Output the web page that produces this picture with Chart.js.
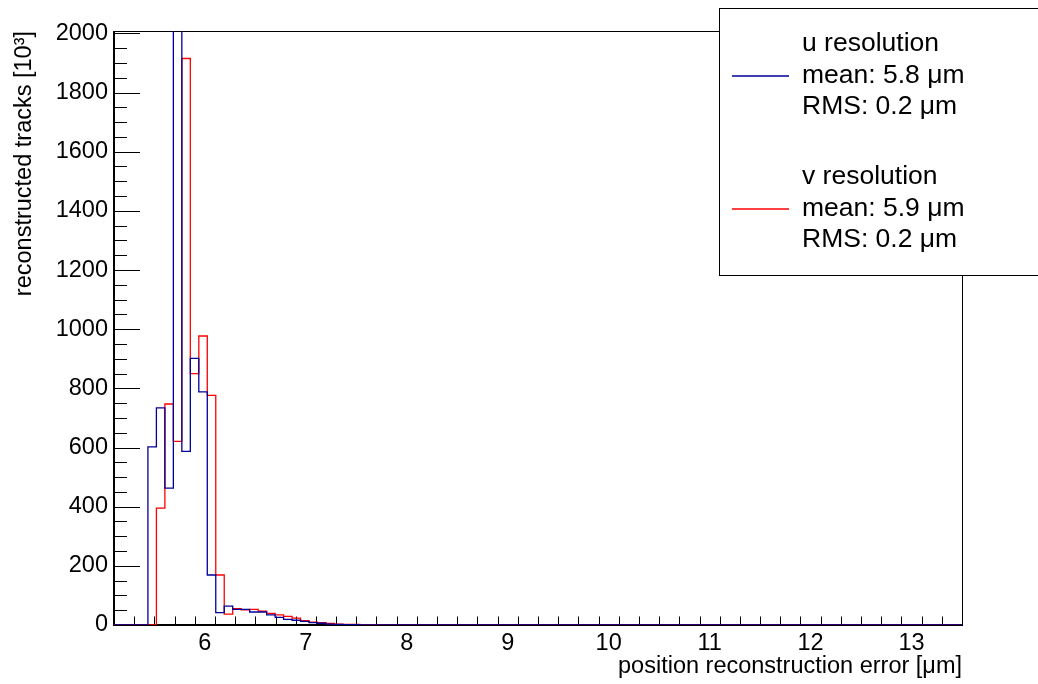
<!DOCTYPE html>
<html>
<head>
<meta charset="utf-8">
<script src="https://cdn.jsdelivr.net/npm/chart.js@4.4.1/dist/chart.umd.min.js"></script>
<style>
  html, body { margin: 0; padding: 0; background: #fff; }
</style>
</head>
<body>
<canvas id="myChart" width="1038" height="684"></canvas>
<script>
// histogram binning: 100 bins from 5.1 to 13.5 um
const binLow = 5.1;
const binWidth = 0.084;
const nBins = 100;

// counts per bin [10^3], starting at bin 0; bins not listed are empty
const uCounts = [0, 0, 0, 0, 602, 734, 463, 2600, 587, 901, 788, 169, 42, 64, 53, 53, 44, 44, 34, 26, 19, 16, 12, 8, 6, 3, 2, 1, 1];
const vCounts = [0, 0, 0, 0, 0, 395, 747, 621, 1915, 850, 977, 776, 169, 37, 55, 51, 53, 47, 39, 34, 29, 23, 15, 10, 8, 5, 3, 2, 2, 1, 1];

const xTicks = [6, 7, 8, 9, 10, 11, 12, 13];
const yTicks = [0, 200, 400, 600, 800, 1000, 1200, 1400, 1600, 1800, 2000];
const yMax = 2008;

const legendU = ['u resolution', 'mean: 5.8 μm', 'RMS: 0.2 μm'];
const legendV = ['v resolution', 'mean: 5.9 μm', 'RMS: 0.2 μm'];

const uColor = '#000099';
const vColor = '#ff0000';
const fontFamily = '"Liberation Sans", Arial, Helvetica, sans-serif';
const axisFont = { family: fontFamily, size: 23.5 };

// outline of a histogram: both edges of every bin
const histPoints = (counts) => {
    const pts = [];
    for (let k = 0; k < nBins; k++) {
        const v = counts[k] || 0;
        pts.push({ x: binLow + k * binWidth, y: v });
        pts.push({ x: binLow + (k + 1) * binWidth, y: v });
    }
    return pts;
};

// frame and inward tick marks, ROOT style
const framePlugin = {
    id: 'frame',
    beforeDatasetsDraw(chart) {
        const { ctx, chartArea: a, scales } = chart;
        ctx.save();
        ctx.strokeStyle = '#000';
        ctx.lineWidth = 1;
        ctx.strokeRect(a.left + 0.5, a.top + 0.5, a.right - a.left, a.bottom - a.top);
        ctx.lineWidth = 2;
        ctx.beginPath();
        ctx.moveTo(a.left, a.top);
        ctx.lineTo(a.left, a.bottom);
        ctx.lineTo(a.right + 1, a.bottom);
        ctx.stroke();

        ctx.lineWidth = 1;
        ctx.beginPath();
        // x ticks: major every 1, minor every 0.2
        for (let i = 51; i <= 135; i += 2) {
            const v = i / 10;
            if (v < scales.x.min || v > scales.x.max) continue;
            const px = Math.round(scales.x.getPixelForValue(v)) + 0.5;
            const len = (i % 10 === 0) ? 17 : 8.5;
            ctx.moveTo(px, a.bottom);
            ctx.lineTo(px, a.bottom - len);
        }
        // y ticks: major every 200, minor every 50
        for (let v = 0; v <= yMax; v += 50) {
            const py = Math.round(scales.y.getPixelForValue(v)) + 0.5;
            const len = (v % 200 === 0) ? 26 : 13;
            ctx.moveTo(a.left, py);
            ctx.lineTo(a.left + len, py);
        }
        ctx.stroke();
        ctx.restore();
    }
};

// boxed legend with stats lines, drawn over the frame
const statsLegend = {
    id: 'statsLegend',
    afterDraw(chart) {
        const ctx = chart.ctx;
        const box = { x: 719.5, y: 8.5, w: 330, h: 267 };
        ctx.save();
        ctx.fillStyle = '#fff';
        ctx.fillRect(box.x, box.y, box.w, box.h);
        ctx.strokeStyle = '#000';
        ctx.lineWidth = 1;
        ctx.strokeRect(box.x, box.y, box.w, box.h);

        ctx.font = '26.5px ' + fontFamily;
        ctx.fillStyle = '#000';
        ctx.textBaseline = 'middle';
        ctx.textAlign = 'left';
        const groups = [
            { lines: legendU, color: uColor, ys: [44, 76, 107] },
            { lines: legendV, color: vColor, ys: [177, 209, 240] }
        ];
        groups.forEach(g => {
            g.lines.forEach((t, i) => ctx.fillText(t, 802, g.ys[i]));
            ctx.strokeStyle = g.color;
            ctx.lineWidth = 1.3;
            ctx.beginPath();
            ctx.moveTo(732, g.ys[1]);
            ctx.lineTo(789, g.ys[1]);
            ctx.stroke();
        });
        ctx.restore();
    }
};

new Chart(document.getElementById('myChart'), {
    type: 'line',
    data: {
        datasets: [
            { label: 'u resolution', data: histPoints(uCounts), borderColor: uColor, borderWidth: 1.3, pointRadius: 0, fill: false, tension: 0 },
            { label: 'v resolution', data: histPoints(vCounts), borderColor: vColor, borderWidth: 1.3, pointRadius: 0, fill: false, tension: 0 }
        ]
    },
    options: {
        responsive: false,
        animation: false,
        layout: { padding: { left: 0, right: 76, top: 31, bottom: 0 } },
        plugins: { legend: { display: false }, tooltip: { enabled: false } },
        scales: {
            x: {
                type: 'linear',
                min: binLow,
                max: binLow + nBins * binWidth,
                grid: { display: false, drawTicks: false },
                border: { display: false },
                afterBuildTicks: (s) => { s.ticks = xTicks.map(v => ({ value: v })); },
                afterFit: (s) => { s.height = 59; },
                ticks: { font: axisFont, color: '#000', padding: 4, maxRotation: 0, autoSkip: false, callback: (v) => String(v) },
                title: { display: true, text: 'position reconstruction error [μm]', align: 'end', font: axisFont, color: '#000', padding: { top: 0, bottom: 3 } }
            },
            y: {
                type: 'linear',
                min: 0,
                max: yMax,
                grid: { display: false, drawTicks: false },
                border: { display: false },
                afterBuildTicks: (s) => { s.ticks = yTicks.map(v => ({ value: v })); },
                afterFit: (s) => { s.width = 114; },
                ticks: { font: axisFont, color: '#000', padding: 6, autoSkip: false, callback: (v) => String(v) },
                title: { display: true, text: 'reconstructed tracks [10³]', align: 'end', font: axisFont, color: '#000', padding: { top: 10, bottom: 0 } }
            }
        }
    },
    plugins: [framePlugin, statsLegend]
});
</script>
</body>
</html>
